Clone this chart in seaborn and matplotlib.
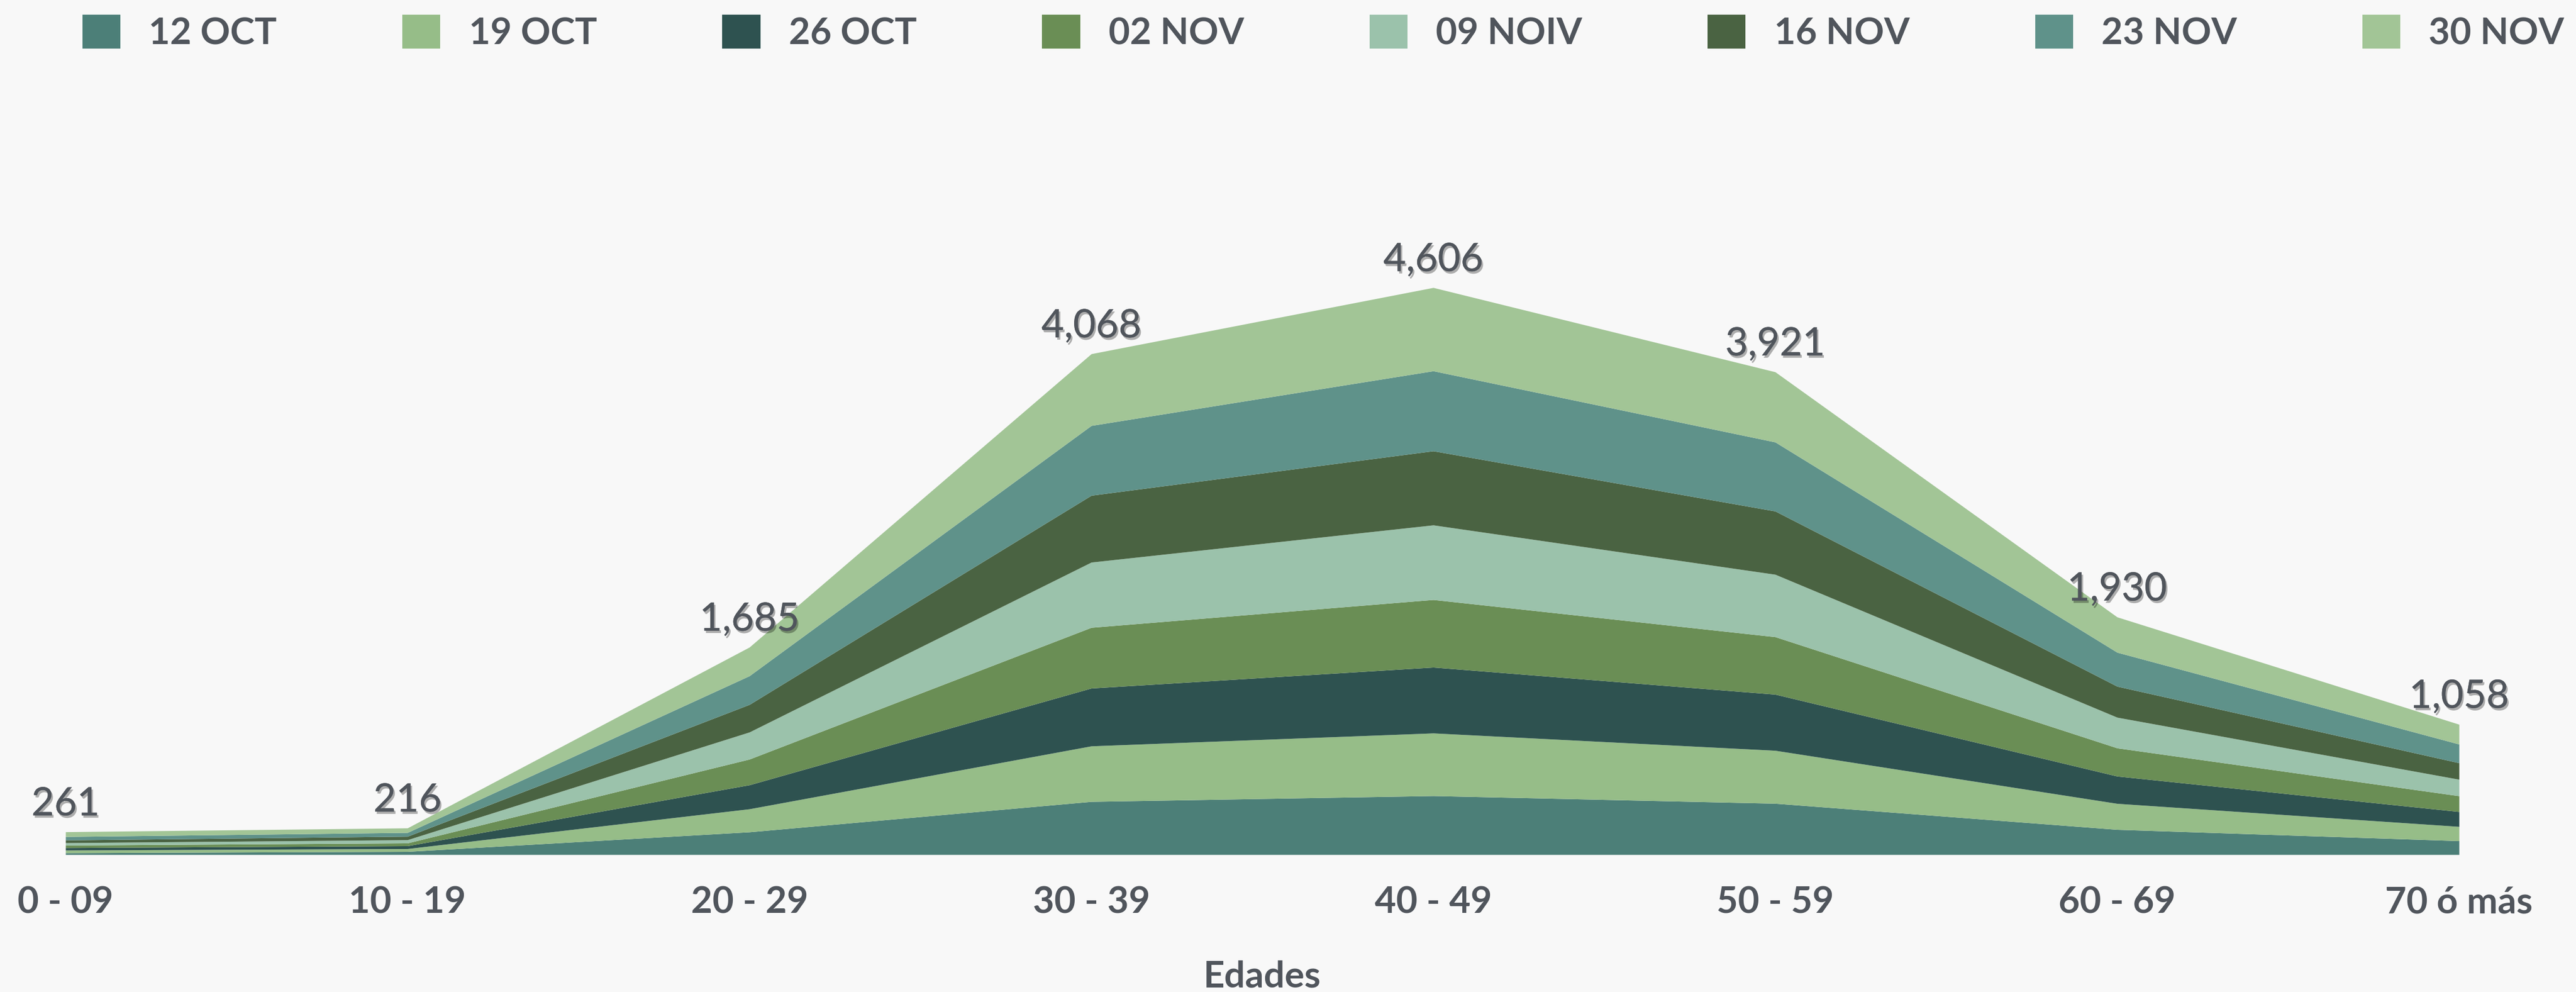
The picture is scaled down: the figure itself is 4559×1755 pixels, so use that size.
import matplotlib
matplotlib.use('Agg')
import matplotlib.pyplot as plt
import matplotlib.patheffects as pe
import seaborn as sns
import pandas as pd

# categorias y series
edades = ['0 - 09', '10 - 19', '20 - 29', '30 - 39', '40 - 49', '50 - 59', '60 - 69', '70 ó más']
semanas = ['12 OCT', '19 OCT', '26 OCT', '02 NOV', '09 NOIV', '16 NOV', '23 NOV', '30 NOV']

oct_12 = [14, 25, 184, 431, 478, 416, 204, 112]
oct_19 = [22, 23, 187, 451, 509, 430, 211, 116]
oct_26 = [20, 23, 195, 470, 535, 456, 222, 121]
nov_02 = [20, 23, 209, 493, 549, 467, 229, 128]
nov_09 = [20, 26, 220, 530, 606, 507, 249, 134]
nov_16 = [22, 28, 224, 543, 602, 514, 252, 134]
nov_23 = [28, 31, 233, 567, 650, 561, 276, 152]
nov_30 = [39, 37, 233, 583, 677, 570, 287, 161]

totales = [261, 216, 1685, 4068, 4606, 3921, 1930, 1058]

colores = ['#4c7f78', '#96bd88', '#2e5250', '#6a8e55',
           '#9bc2ab', '#4a6342', '#5f928a', '#a2c596']

df = pd.DataFrame([oct_12, oct_19, oct_26, nov_02, nov_09, nov_16, nov_23, nov_30],
                  index=semanas, columns=edades)

gris = '#50555c'
fondo = '#f8f8f8'

sns.set_theme(style='white', rc={'figure.facecolor': fondo, 'axes.facecolor': fondo})
plt.rcParams['font.family'] = ['Lato', 'DejaVu Sans']

fig = plt.figure(figsize=(45.59, 17.55), dpi=100)
ax = fig.add_axes([0.02544, 0.1385, 0.9546 - 0.02544, 0.759 - 0.1385])

x = range(len(edades))
ax.stackplot(x, df.values, labels=semanas, colors=colores, linewidth=0)

ax.set_xlim(0, len(edades) - 1)
ax.set_ylim(0, 5000)
ax.set_xticks(list(x))
ax.set_xticklabels(edades, fontsize=47, fontweight='bold', color=gris)
ax.set_yticks([])
ax.tick_params(axis='x', length=0, pad=40)
sns.despine(ax=ax, left=True, bottom=True)

ax.set_xlabel('Edades', fontsize=47, fontweight='bold', color=gris, labelpad=52)

# etiquetas de total
tops = df.sum(axis=0).values
sombra = [pe.withSimplePatchShadow(offset=(2, -3), shadow_rgbFace='#000000', alpha=0.3),
          pe.Normal()]
for i, (t, lab) in enumerate(zip(tops, totales)):
    ax.annotate(f'{lab:,}', (i, t), xytext=(0, 21), textcoords='offset points',
                ha='center', va='baseline', fontsize=50, fontweight='normal',
                color=gris, path_effects=sombra)

# leyenda
h, l = ax.get_legend_handles_labels()
fig.legend(h, l, loc='upper left', bbox_to_anchor=(0.032, 0.985), ncol=8,
           frameon=False, prop={'weight': 'bold', 'size': 47},
           handlelength=1.03, handleheight=1.03, handletextpad=0.77,
           columnspacing=3.4, borderpad=0, borderaxespad=0, labelcolor=gris)

fig.savefig('out.png', dpi=100, facecolor=fondo)
